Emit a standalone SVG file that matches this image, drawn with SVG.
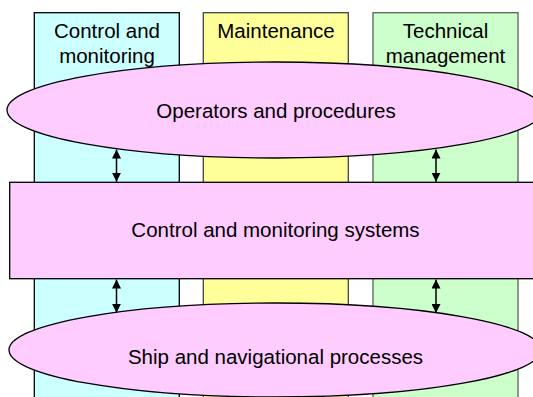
<svg xmlns="http://www.w3.org/2000/svg" width="533" height="397" viewBox="0 0 533 397">
  <defs>
    <style>
      .lbl { font-family: "Liberation Sans", Arial, sans-serif; font-size: 20.5px; fill: #000; text-anchor: middle; }
      .col { stroke-width: 1.3; }
      .pink { fill: #FFCCFF; stroke: #000; stroke-width: 1.3; }
      .link { stroke: #000; stroke-width: 1.5; fill: none; marker-start: url(#head); marker-end: url(#head); }
    </style>
    <marker id="head" viewBox="0 0 10 10" refX="10" refY="5" markerWidth="9" markerHeight="9" markerUnits="userSpaceOnUse" orient="auto-start-reverse">
      <path d="M0,0 L10,5 L0,10 Z" fill="#000"/>
    </marker>
  </defs>

  <!-- vertical function columns -->
  <g id="col-control">
    <rect class="col" x="34.3" y="12.7" width="145" height="400" fill="#CCFFFF" stroke="#000"/>
    <text class="lbl" x="107" y="38.3">Control and</text>
    <text class="lbl" x="107" y="62.5">monitoring</text>
  </g>
  <g id="col-maintenance">
    <rect class="col" x="203.3" y="12.7" width="145" height="400" fill="#FFFF99" stroke="#444"/>
    <text class="lbl" x="276" y="38.3">Maintenance</text>
  </g>
  <g id="col-technical">
    <rect class="col" x="373" y="12.7" width="145" height="400" fill="#CCFFCC" stroke="#556655"/>
    <text class="lbl" x="445.5" y="38.3">Technical</text>
    <text class="lbl" x="445.5" y="62.5">management</text>
  </g>

  <!-- horizontal layers -->
  <g id="operators">
    <ellipse class="pink" cx="275" cy="110" rx="268" ry="48"/>
    <text class="lbl" x="276" y="118">Operators and procedures</text>
  </g>
  <g id="systems">
    <rect class="pink" x="9.7" y="182.3" width="540" height="96.4"/>
    <text class="lbl" x="275.5" y="236.7">Control and monitoring systems</text>
  </g>
  <g id="processes">
    <ellipse class="pink" cx="275" cy="350" rx="266" ry="47"/>
    <text class="lbl" x="275.5" y="364">Ship and navigational processes</text>
  </g>

  <!-- two-way links between layers -->
  <g id="connectors">
    <line class="link" x1="116.5" y1="149.5" x2="116.5" y2="181.7"/>
    <line class="link" x1="436" y1="149.5" x2="436" y2="181.7"/>
    <line class="link" x1="116.5" y1="279.5" x2="116.5" y2="312.7"/>
    <line class="link" x1="436" y1="279.5" x2="436" y2="313"/>
  </g>
</svg>
